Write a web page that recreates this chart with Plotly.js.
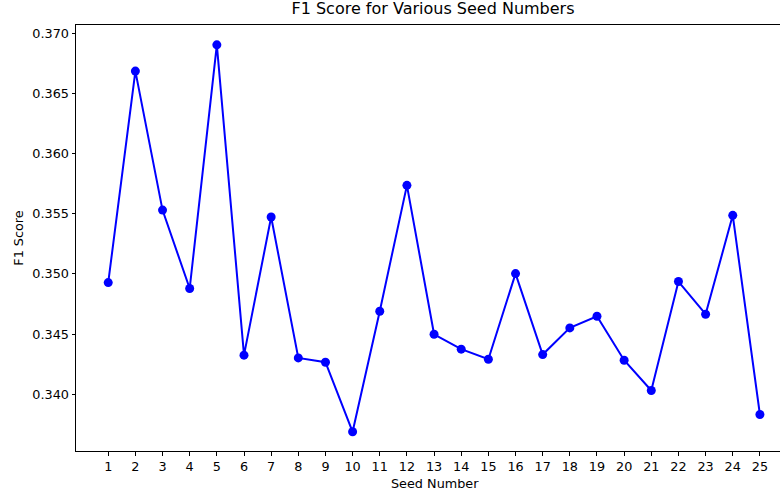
<!DOCTYPE html>
<html>
<head>
<meta charset="utf-8">
<script src="https://cdn.plot.ly/plotly-3.0.1.min.js"></script>
<style>html,body{margin:0;padding:0;background:#fff;}#chart{width:780px;height:493px;}</style>
</head>
<body>
<div id="chart"></div>
<script>
const seeds = [1,2,3,4,5,6,7,8,9,10,11,12,13,14,15,16,17,18,19,20,21,22,23,24,25];
const f1Scores = [0.34928,0.36689,0.35532,0.34879,0.36908,0.34324,0.35474,0.34301,0.34265,0.33686,
                  0.34690,0.35738,0.34498,0.34374,0.34290,0.35003,0.34329,0.34551,0.34648,0.34282,
                  0.34030,0.34937,0.34665,0.35488,0.33830];
const yTicks = [0.340,0.345,0.350,0.355,0.360,0.365,0.370];
const titleText = "F1 Score for Various Seed Numbers";
const xLabel = "Seed Number";
const yLabel = "F1 Score";

const font = {family: "DejaVu Sans", size: 12.8, color: "#000"};

Plotly.newPlot("chart", [{
  x: seeds, y: f1Scores, type: "scatter", mode: "lines+markers",
  line: {color: "#0000ff", width: 2},
  marker: {color: "#0000ff", size: 9},
  hoverinfo: "x+y"
}], {
  width: 780, height: 493,
  margin: {l: 76, r: 0, t: 24.5, b: 42, pad: 0},
  paper_bgcolor: "#fff", plot_bgcolor: "#fff",
  font: font,
  showlegend: false,
  title: {text: titleText, font: {family: "DejaVu Sans", size: 16, color: "#000"},
          x: 433/780, xref: "container", xanchor: "center", y: 1, yref: "container", yanchor: "top", pad: {t: 3}},
  annotations: [{
    text: xLabel, xref: "paper", yref: "paper", x: (434.5 - 76) / 704, y: 0,
    xanchor: "center", yanchor: "middle", yshift: -32, showarrow: false, font: font
  }],
  xaxis: {
    range: [-0.187, 25.74], tickmode: "array", tickvals: seeds, ticktext: seeds.map(String),
    showgrid: false, zeroline: false, showline: true, linecolor: "#000", linewidth: 1,
    mirror: true, ticks: "outside", ticklen: 3.5, tickcolor: "#000", tickwidth: 1,
    tickfont: font
  },
  yaxis: {
    range: [0.33526, 0.37073], tickmode: "array", tickvals: yTicks,
    ticktext: yTicks.map(v => v.toFixed(3)),
    showgrid: false, zeroline: false, showline: true, linecolor: "#000", linewidth: 1,
    ticks: "outside", ticklen: 3.5, tickcolor: "#000", tickwidth: 1,
    tickfont: font,
    title: {text: yLabel, font: font, standoff: 5}
  }
}, {displayModeBar: false, staticPlot: true});
</script>
</body>
</html>
